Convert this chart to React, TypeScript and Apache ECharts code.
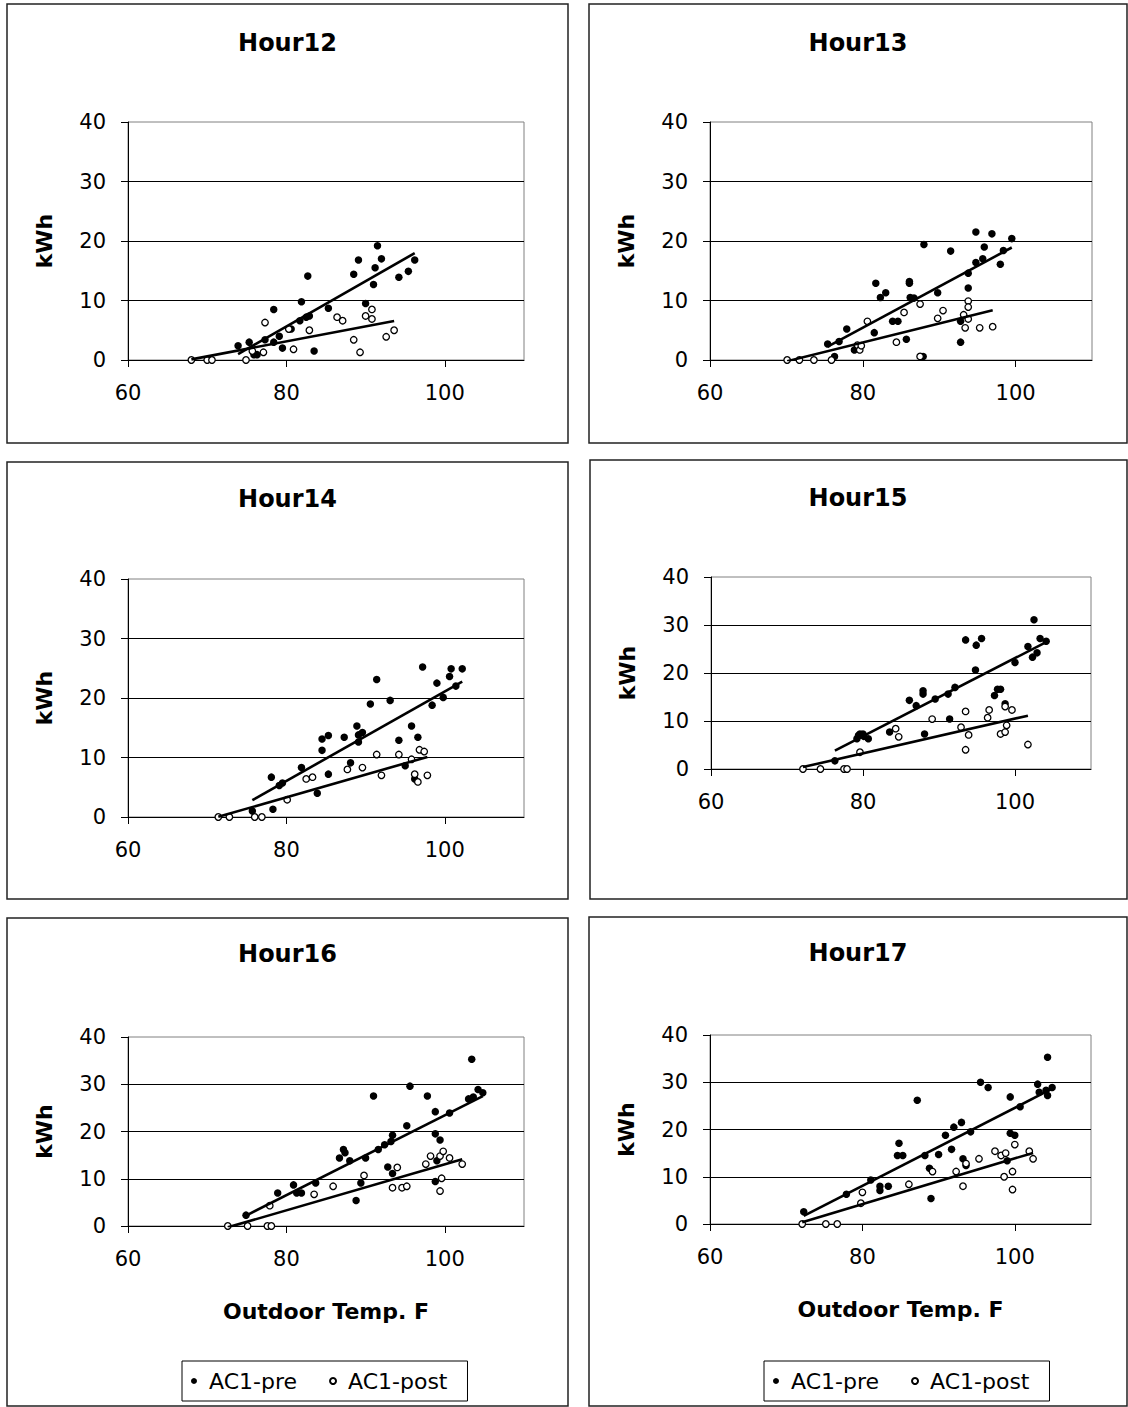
import React, { useEffect, useRef } from "react";
import * as echarts from "echarts";

// ---------- data (Outdoor Temp. F, kWh) ----------
const h12PreTemp = [73.9, 75.3, 75.9, 76.3, 77.3, 78.4, 78.4, 79.1, 79.5, 80.6, 81.7, 81.9, 82.5, 82.9, 82.7, 83.5, 85.3, 88.5, 89.1, 90.0, 91.0, 91.2, 91.5, 92.0, 94.2, 95.4, 96.2];
const h12PreKwh = [2.4, 3.0, 0.9, 0.9, 3.4, 8.5, 3.0, 4.0, 2.0, 5.2, 6.6, 9.8, 7.2, 7.4, 14.1, 1.5, 8.7, 14.4, 16.8, 9.5, 12.7, 15.5, 19.2, 17.0, 13.9, 14.9, 16.8];
const h12PostTemp = [68.0, 70.0, 70.6, 74.9, 75.7, 77.1, 77.3, 80.3, 80.9, 82.9, 86.4, 87.1, 88.5, 89.3, 90.0, 90.8, 90.8, 92.6, 93.6];
const h12PostKwh = [0, 0, 0, 0, 1.5, 1.3, 6.3, 5.2, 1.8, 5.0, 7.2, 6.6, 3.4, 1.3, 7.4, 8.5, 6.9, 3.9, 5.0];

const h13PreTemp = [75.4, 76.3, 76.9, 77.9, 78.9, 81.5, 81.7, 82.3, 83.0, 83.9, 84.6, 85.7, 86.1, 86.1, 86.2, 86.7, 87.9, 88.0, 89.8, 91.5, 92.8, 92.8, 93.8, 93.8, 94.8, 94.8, 95.7, 95.9, 96.9, 98.0, 98.4, 99.5];
const h13PreKwh = [2.7, 0.6, 3.1, 5.2, 1.7, 4.6, 12.9, 10.5, 11.3, 6.5, 6.5, 3.5, 12.9, 13.2, 10.5, 10.4, 0.6, 19.4, 11.3, 18.3, 6.5, 3.0, 12.1, 14.6, 16.4, 21.5, 17.0, 19.0, 21.2, 16.1, 18.4, 20.4];
const h13PostTemp = [70.1, 71.7, 73.6, 75.9, 79.3, 79.6, 79.8, 80.6, 84.4, 85.4, 87.5, 87.5, 89.8, 90.5, 93.2, 93.4, 93.8, 93.8, 93.8, 95.3, 97.0];
const h13PostKwh = [0, 0, 0, 0, 2.5, 1.7, 2.4, 6.5, 3.0, 8.0, 9.4, 0.6, 7.0, 8.3, 7.6, 5.4, 9.9, 8.9, 6.9, 5.4, 5.6];

const h14PreTemp = [75.7, 78.1, 78.3, 79.1, 79.5, 81.9, 83.9, 84.5, 84.5, 85.3, 85.3, 87.3, 88.1, 88.9, 89.1, 89.1, 89.6, 90.6, 91.4, 93.1, 94.2, 95.0, 95.8, 96.2, 96.6, 97.2, 98.4, 99.0, 99.8, 100.6, 100.8, 101.4, 102.2];
const h14PreKwh = [1.0, 6.7, 1.3, 5.3, 5.7, 8.3, 4.0, 11.2, 13.1, 13.7, 7.2, 13.4, 9.1, 15.3, 12.6, 13.8, 14.2, 19.0, 23.1, 19.6, 12.9, 8.6, 15.3, 6.4, 13.4, 25.2, 18.8, 22.5, 20.1, 23.6, 24.9, 22.0, 24.9];
const h14PostTemp = [71.4, 72.8, 76.0, 76.9, 80.1, 82.5, 83.3, 87.7, 89.6, 91.4, 92.0, 94.2, 95.8, 96.2, 96.6, 96.8, 97.4, 97.8];
const h14PostKwh = [0, 0, 0, 0, 2.9, 6.4, 6.7, 8.0, 8.3, 10.5, 7.0, 10.5, 9.7, 7.2, 5.9, 11.3, 11.0, 7.0];

const h15PreTemp = [76.3, 79.2, 79.4, 79.6, 80.0, 80.1, 80.7, 83.5, 86.1, 87.0, 87.9, 87.9, 88.1, 89.5, 91.2, 91.4, 92.1, 93.5, 94.8, 94.9, 95.6, 97.3, 97.7, 98.1, 98.7, 100.0, 101.7, 102.3, 102.5, 102.9, 103.3, 104.1];
const h15PreKwh = [1.7, 6.3, 7.0, 7.3, 7.3, 6.8, 6.3, 7.7, 14.3, 13.2, 16.3, 15.6, 7.3, 14.6, 15.6, 10.4, 17.0, 26.9, 20.6, 25.8, 27.2, 15.3, 16.6, 16.6, 13.6, 22.2, 25.5, 23.3, 31.1, 24.2, 27.2, 26.6];
const h15PostTemp = [72.1, 74.4, 77.5, 77.9, 79.6, 84.3, 84.7, 89.1, 92.9, 93.5, 93.5, 93.9, 96.4, 96.6, 98.1, 98.7, 98.7, 98.9, 99.6, 101.7];
const h15PostKwh = [0, 0, 0, 0, 3.5, 8.4, 6.7, 10.4, 8.7, 12.0, 4.0, 7.1, 10.7, 12.3, 7.3, 7.7, 13.0, 9.1, 12.3, 5.1];

const h16PreTemp = [74.9, 78.9, 80.9, 81.3, 81.9, 83.7, 86.7, 87.2, 87.4, 88.0, 88.8, 89.4, 90.0, 91.0, 91.6, 92.4, 92.8, 93.2, 93.4, 93.4, 95.2, 95.6, 97.8, 98.8, 98.8, 99.0, 98.8, 99.4, 100.6, 103.0, 103.4, 103.6, 104.2, 104.8];
const h16PreKwh = [2.3, 7.0, 8.7, 7.0, 7.0, 9.1, 14.4, 16.2, 15.5, 13.8, 5.4, 9.1, 14.4, 27.5, 16.2, 17.2, 12.5, 17.9, 19.2, 11.1, 21.2, 29.6, 27.5, 24.2, 19.5, 13.8, 9.4, 18.2, 23.9, 26.9, 35.3, 27.3, 28.9, 28.2];
const h16PostTemp = [72.6, 75.1, 77.6, 78.1, 77.9, 83.5, 85.9, 89.8, 93.4, 94.0, 94.6, 95.2, 97.6, 98.2, 99.4, 99.4, 99.6, 99.8, 100.6, 102.2];
const h16PostKwh = [0, 0, 0, 0, 4.3, 6.7, 8.4, 10.7, 8.1, 12.4, 8.1, 8.4, 13.1, 14.8, 14.8, 7.4, 10.1, 15.8, 14.4, 13.1];

const h17PreTemp = [72.3, 77.9, 81.1, 82.3, 82.3, 83.4, 84.8, 84.6, 85.3, 87.2, 88.2, 88.8, 89.0, 90.0, 90.9, 91.7, 92.0, 93.0, 93.2, 93.6, 94.2, 95.5, 96.5, 99.4, 99.4, 100.0, 99.0, 100.7, 103.0, 103.2, 104.1, 104.3, 104.3, 104.9];
const h17PreKwh = [2.6, 6.3, 9.3, 8.0, 7.1, 8.0, 17.1, 14.5, 14.5, 26.2, 14.5, 11.8, 5.4, 14.7, 18.8, 15.8, 20.5, 21.5, 13.8, 12.4, 19.5, 30.0, 28.9, 26.9, 19.2, 18.8, 13.4, 24.8, 29.6, 27.9, 28.3, 27.2, 35.3, 28.9];
const h17PostTemp = [72.1, 75.2, 76.7, 79.8, 80.0, 86.1, 89.2, 92.3, 93.2, 93.6, 95.3, 97.4, 98.2, 98.6, 98.8, 99.7, 99.7, 100.0, 101.9, 102.4];
const h17PostKwh = [0, 0, 0, 4.4, 6.7, 8.4, 11.1, 11.1, 8.0, 12.8, 13.8, 15.4, 14.5, 10.0, 15.0, 11.1, 7.3, 16.8, 15.4, 13.8];

const panelTitles = ["Hour12", "Hour13", "Hour14", "Hour15", "Hour16", "Hour17"];
const xTicks = [60, 80, 100];
const yTicks = [0, 10, 20, 30, 40];
const seriesNames = ["AC1-pre", "AC1-post"];
const xAxisTitle = "Outdoor Temp. F";
const yAxisTitle = "kWh";

const panelData = [
  [h12PreTemp, h12PreKwh, h12PostTemp, h12PostKwh],
  [h13PreTemp, h13PreKwh, h13PostTemp, h13PostKwh],
  [h14PreTemp, h14PreKwh, h14PostTemp, h14PostKwh],
  [h15PreTemp, h15PreKwh, h15PostTemp, h15PostKwh],
  [h16PreTemp, h16PreKwh, h16PostTemp, h16PostKwh],
  [h17PreTemp, h17PreKwh, h17PostTemp, h17PostKwh],
];

// ---------- layout ----------
const grids = [
  { left: 128, top: 122, width: 396, height: 238 },
  { left: 710, top: 122, width: 382, height: 238 },
  { left: 128, top: 579, width: 396, height: 238 },
  { left: 711, top: 577, width: 380, height: 192 },
  { left: 128, top: 1037, width: 396, height: 189 },
  { left: 710, top: 1035, width: 381, height: 189 },
];
const boxes = [
  { x: 7, y: 4, width: 561, height: 439 },
  { x: 589, y: 4, width: 538, height: 439 },
  { x: 7, y: 462, width: 561, height: 437 },
  { x: 590, y: 460, width: 537, height: 439 },
  { x: 7, y: 918, width: 561, height: 488 },
  { x: 589, y: 917, width: 538, height: 489 },
];
const titlePos = [
  [287.5, 43],
  [858, 43],
  [287.5, 499],
  [858, 498],
  [287.5, 954],
  [858, 953],
];

const FONT = '"DejaVu Sans", "Liberation Sans", Arial, sans-serif';

function zip(xs: number[], ys: number[]) {
  return xs.map((x, i) => [x, ys[i]]);
}

function trend(xs: number[], ys: number[]) {
  const n = xs.length;
  let sx = 0, sy = 0, sxx = 0, sxy = 0;
  for (let i = 0; i < n; i++) {
    sx += xs[i]; sy += ys[i]; sxx += xs[i] * xs[i]; sxy += xs[i] * ys[i];
  }
  const b = (n * sxy - sx * sy) / (n * sxx - sx * sx);
  const a = (sy - b * sx) / n;
  const x0 = Math.min(...xs);
  const x1 = Math.max(...xs);
  return [[x0, a + b * x0], [x1, a + b * x1]];
}

export default function App() {
  const ref = useRef<HTMLDivElement>(null);
  useEffect(() => {
    if (!ref.current) return;
    const chart = echarts.init(ref.current, null, { renderer: "svg" });

    const xAxes: any[] = [];
    const yAxes: any[] = [];
    const series: any[] = [];
    const graphics: any[] = [];

    panelData.forEach((d, i) => {
      const bottomRow = i >= 4;
      xAxes.push({
        gridIndex: i,
        type: "value",
        min: 60,
        max: 110,
        interval: 20,
        name: bottomRow ? xAxisTitle : "",
        nameLocation: "middle",
        nameGap: 74,
        nameTextStyle: { fontFamily: FONT, fontWeight: "bold", fontSize: 22, color: "#000" },
        axisLine: { show: true, onZero: false, lineStyle: { color: "#000", width: 1 } },
        axisTick: { show: true, length: 7, customValues: xTicks, lineStyle: { color: "#000" } },
        axisLabel: { customValues: xTicks, margin: 22, fontFamily: FONT, fontSize: 21, color: "#000" },
        splitLine: { show: false },
      });
      yAxes.push({
        gridIndex: i,
        type: "value",
        min: yTicks[0],
        max: yTicks[yTicks.length - 1],
        interval: 10,
        name: yAxisTitle,
        nameLocation: "middle",
        nameRotate: 90,
        nameGap: 73,
        nameTextStyle: { fontFamily: FONT, fontWeight: "bold", fontSize: 22, color: "#000" },
        axisLine: { show: true, lineStyle: { color: "#000", width: 1 } },
        axisTick: { show: true, length: 7, lineStyle: { color: "#000" } },
        axisLabel: { margin: 22, fontFamily: FONT, fontSize: 21, color: "#000" },
        splitLine: { show: true, showMaxLine: false, lineStyle: { color: "#000", width: 1 } },
      });
      series.push({
        name: seriesNames[0],
        type: "scatter",
        xAxisIndex: i,
        yAxisIndex: i,
        symbol: "circle",
        symbolSize: 7.5,
        itemStyle: { color: "#000", opacity: 1 },
        data: zip(d[0], d[1]),
        z: 2,
      });
      series.push({
        name: seriesNames[1],
        type: "scatter",
        xAxisIndex: i,
        yAxisIndex: i,
        symbol: "circle",
        symbolSize: 6.5,
        itemStyle: { color: "#fff", borderColor: "#000", borderWidth: 1.3, opacity: 1 },
        data: zip(d[2], d[3]),
        z: 3,
      });
      series.push({
        name: "trend-pre-" + i,
        type: "line",
        xAxisIndex: i,
        yAxisIndex: i,
        showSymbol: false,
        symbol: "none",
        clip: true,
        lineStyle: { color: "#000", width: 2.6 },
        data: trend(d[0], d[1]),
        z: 4,
        silent: true,
      });
      series.push({
        name: "trend-post-" + i,
        type: "line",
        xAxisIndex: i,
        yAxisIndex: i,
        showSymbol: false,
        symbol: "none",
        clip: true,
        lineStyle: { color: "#000", width: 2.6 },
        data: trend(d[2], d[3]),
        z: 4,
        silent: true,
      });
      graphics.push({
        type: "rect",
        shape: boxes[i],
        style: { fill: "none", stroke: "#222", lineWidth: 1.5 },
        z: -10,
      });
      graphics.push({
        type: "text",
        x: titlePos[i][0],
        y: titlePos[i][1],
        style: {
          text: panelTitles[i],
          fontFamily: FONT,
          fontWeight: "bold",
          fontSize: 24,
          fill: "#000",
          align: "center",
          verticalAlign: "middle",
        },
      });
    });

    const legendBase = {
      top: 1361,
      orient: "horizontal",
      data: seriesNames.map((n) => ({ name: n, icon: "circle" })),
      itemWidth: 20,
      itemHeight: 6,
      itemGap: 32,
      padding: [9, 20, 9, 9],
      borderColor: "#000",
      borderWidth: 1,
      selectedMode: false,
      textStyle: { fontFamily: FONT, fontSize: 22, color: "#000" },
    };

    chart.setOption({
      animation: false,
      backgroundColor: "#fff",
      grid: grids.map((g) => ({
        ...g,
        show: true,
        borderColor: "#808080",
        borderWidth: 1,
        backgroundColor: "transparent",
        containLabel: false,
      })),
      xAxis: xAxes,
      yAxis: yAxes,
      series,
      legend: [
        { ...legendBase, left: 182 },
        { ...legendBase, left: 764 },
      ],
      graphic: graphics,
    });

    return () => chart.dispose();
  }, []);

  return (
    <div
      ref={ref}
      style={{ position: "absolute", left: 0, top: 0, width: 1128, height: 1407, background: "#fff" }}
    />
  );
}
